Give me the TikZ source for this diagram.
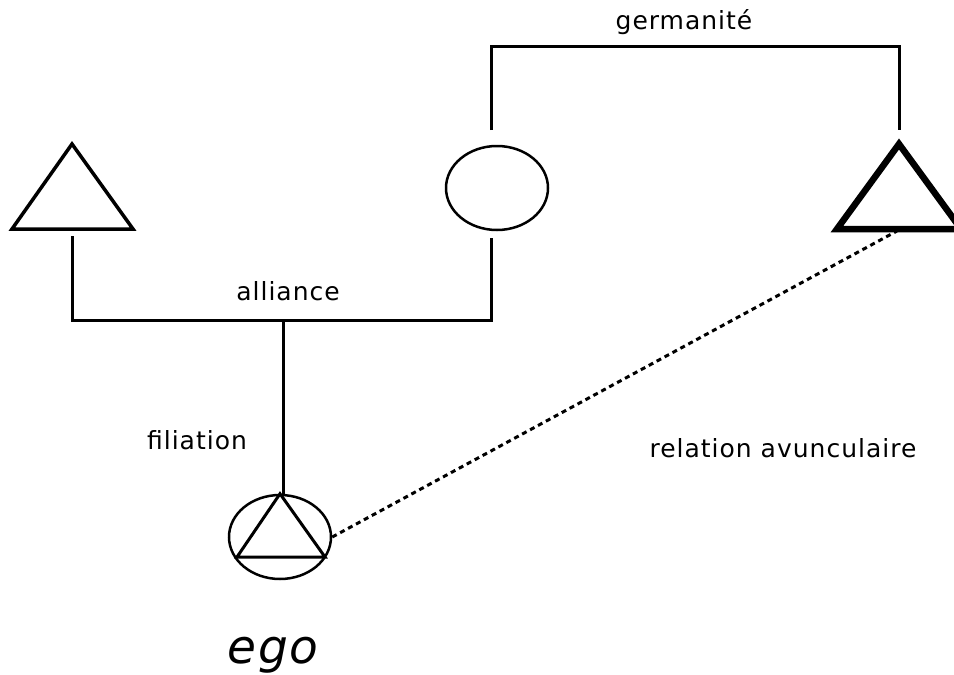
\documentclass[tikz,border=0pt]{standalone}
\usepackage{fontspec}
\setmainfont{DejaVu Sans}[LetterSpace=4]
\usetikzlibrary{shapes.geometric,calc,positioning}

\tikzset{
    lien/.style={line width=3pt},
    femme/.style={ellipse,draw,line width=2.5pt,minimum width=102pt,minimum height=84pt,inner sep=0pt},
    etiquette/.style={font=\fontsize{25}{28}\selectfont}
}

\begin{document}
\begin{tikzpicture}[x=1pt,y=-1pt,line join=miter]
    \useasboundingbox (0,0) rectangle (954,675);
    \clip (0,0) rectangle (954,675);
    % pere, mere, oncle
    \coordinate (pere) at (72,229);
    \draw[line width=3.5pt] (12,229) -- (72,144) -- (133,229) -- cycle;
    \node[femme] (mere) at (497,188) {};
    \coordinate (oncle) at (899,229);
    \draw[line width=6.5pt] (837,229) -- (899,144) -- (961,229) -- cycle;
    % ego
    \node[femme] (ego) at (280,537) {};
    \draw[line width=3pt] (ego.north) -- ($(ego.center)+(-43,20)$) -- ($(ego.center)+(45,20)$) -- cycle;
    % alliance et filiation
    \coordinate (pereBas) at (72,236);
    \coordinate (mereBas) at (491,238);
    \coordinate (couple) at (283,320);
    \draw[lien] (pereBas) |- (couple) -| (mereBas);
    \draw[lien] (couple) -- (ego.north -| couple);
    % germanite
    \coordinate (mereHaut) at (491,130);
    \coordinate (oncleHaut) at (899,130);
    \draw[lien] (mereHaut) -- (491,46) -- (899,46) -- (oncleHaut);
    % relation avunculaire
    \draw[line width=3pt,dash pattern=on 5pt off 4pt] (ego.east) -- (897,231);
    % textes
    \node[etiquette] (germanite) at (684,22) {germanité};
    \node[etiquette] (alliance) at (288,291) {alliance};
    \node[etiquette] (filiation) at (197,440) {filiation};
    \node[etiquette] (avunc) at (783,448) {relation avunculaire};
    \node[font=\fontsize{47}{52}\itshape] (egotxt) at (273,655) {ego};
\end{tikzpicture}
\end{document}
